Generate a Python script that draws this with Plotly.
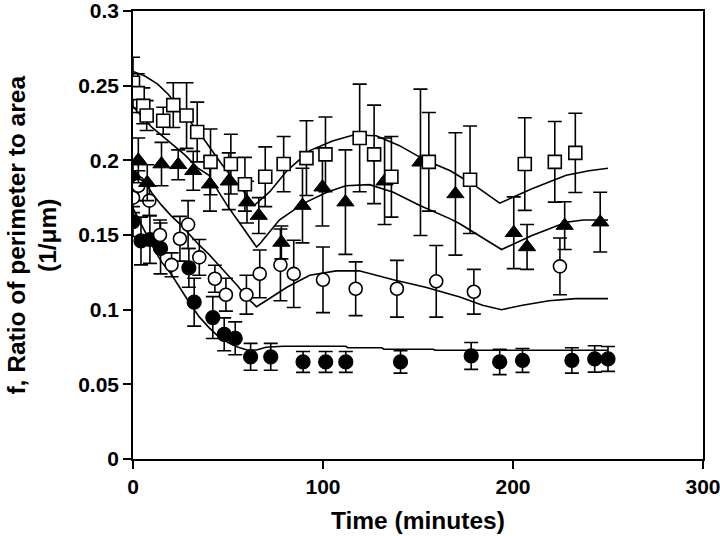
import plotly.graph_objects as go

# ---- data: open squares ----
sq_x = [0, 2.5, 5.4, 7.2, 15.9, 21.2, 28.2, 33.8, 40.8, 51.5, 58.9, 69.6, 79.3, 91.3, 101.3, 119.3, 126.9, 136, 155.7, 177.4, 206.2, 222, 232.8]
sq_y = [0.252, 0.245, 0.2365, 0.230, 0.2265, 0.237, 0.230, 0.219, 0.199, 0.1975, 0.184, 0.189, 0.1975, 0.2015, 0.204, 0.215, 0.204, 0.189, 0.199, 0.187, 0.1975, 0.199, 0.205]
sq_e = [0.017, 0.013, 0.012, 0.010, 0.009, 0.015, 0.022, 0.020, 0.022, 0.020, 0.018, 0.020, 0.0185, 0.025, 0.025, 0.036, 0.033, 0.027, 0.033, 0.036, 0.031, 0.027, 0.0265]

# ---- filled triangles ----
tr_x = [2.8, 7.5, 15, 23.8, 31.7, 40.5, 50.4, 60, 66.2, 78.1, 89.2, 99.7, 111.8, 132.4, 151.3, 169.7, 200.4, 207.4, 227.2, 245.9]
tr_y = [0.200, 0.185, 0.1975, 0.197, 0.193, 0.184, 0.186, 0.172, 0.163, 0.145, 0.1697, 0.182, 0.172, 0.186, 0.1987, 0.1775, 0.1515, 0.142, 0.1563, 0.1586]
tr_e = [0.015, 0.012, 0.0145, 0.010, 0.013, 0.018, 0.019, 0.014, 0.012, 0.011, 0.025, 0.026, 0.035, 0.029, 0.049, 0.041, 0.024, 0.015, 0.016, 0.020]

# ---- open circles ----
oc_x = [0, 2.8, 8.6, 14.2, 20.3, 24.7, 29, 34.9, 43.1, 48.9, 59.7, 66.7, 77.6, 84.6, 100, 117.2, 138.9, 159.6, 179.4, 224.7]
oc_y = [0.175, 0.183, 0.173, 0.150, 0.130, 0.1475, 0.157, 0.135, 0.1207, 0.110, 0.110, 0.124, 0.130, 0.124, 0.120, 0.114, 0.114, 0.119, 0.112, 0.129]
oc_e = [0.010, 0.010, 0.010, 0.010, 0.008, 0.015, 0.016, 0.012, 0.009, 0.011, 0.013, 0.016, 0.024, 0.0225, 0.022, 0.018, 0.019, 0.024, 0.015, 0.019]

# ---- filled circles ----
fc_x = [0, 0, 4.2, 8.9, 14.5, 29.4, 32.2, 42, 48, 53.8, 61.9, 72.5, 89.5, 101.4, 112, 140.8, 178, 193, 205, 231, 243, 250]
fc_y = [0.188, 0.159, 0.146, 0.147, 0.141, 0.128, 0.105, 0.0947, 0.0835, 0.0808, 0.0684, 0.0684, 0.065, 0.065, 0.065, 0.065, 0.069, 0.065, 0.066, 0.066, 0.067, 0.067]
fc_e = [0.009, 0.010, 0.016, 0.016, 0.017, 0.013, 0.016, 0.014, 0.011, 0.011, 0.009, 0.009, 0.007, 0.007, 0.007, 0.0075, 0.009, 0.0085, 0.008, 0.0085, 0.0088, 0.0083]

# ---- model curves ----
la_x = [0, 6, 13, 18.5, 27, 38, 46.6, 55, 64, 72, 81, 93, 105, 116, 128, 140, 154, 167, 180, 193, 210, 228, 240, 250]
la_y = [0.2595, 0.2566, 0.251, 0.2443, 0.231, 0.213, 0.1975, 0.184, 0.170, 0.179, 0.193, 0.2065, 0.213, 0.217, 0.2165, 0.210, 0.200, 0.193, 0.183, 0.1713, 0.181, 0.190, 0.193, 0.1947]

lb_x = [0, 5, 10, 18.5, 27, 34, 40, 45, 50, 55, 60, 65, 67, 77, 89.5, 102, 112, 124.5, 137, 151, 167, 172, 194, 210, 228, 237, 250]
lb_y = [0.236, 0.229, 0.222, 0.213, 0.204, 0.195, 0.190, 0.179, 0.169, 0.160, 0.151, 0.142, 0.1445, 0.160, 0.171, 0.1786, 0.183, 0.1837, 0.1786, 0.1697, 0.1608, 0.1575, 0.1403, 0.1497, 0.1586, 0.160, 0.160]

lc_x = [0, 5, 10, 15, 20, 25, 30, 35, 40, 45, 50, 55, 60, 65, 70, 81, 93, 107, 119, 137, 154, 172, 184, 194, 205, 219, 233, 250]
lc_y = [0.192, 0.188, 0.178, 0.170, 0.163, 0.157, 0.150, 0.143, 0.137, 0.130, 0.123, 0.116, 0.108, 0.102, 0.106, 0.115, 0.123, 0.126, 0.126, 0.120, 0.115, 0.1085, 0.103, 0.100, 0.103, 0.106, 0.1074, 0.1074]

ld_x = [0, 5, 10, 15, 20, 25, 30, 35, 40, 45, 50, 55, 60, 65, 70, 79, 112, 113, 131, 132, 158, 159, 250]
ld_y = [0.168, 0.155, 0.143, 0.132, 0.124, 0.114, 0.104, 0.095, 0.088, 0.082, 0.078, 0.075, 0.073, 0.073, 0.0748, 0.0755, 0.0755, 0.0745, 0.0745, 0.0735, 0.0735, 0.0728, 0.0728]

x_ticks = [0, 100, 200, 300]
y_ticks = [0, 0.05, 0.1, 0.15, 0.2, 0.25, 0.3]

fig = go.Figure()

for lx, ly in [(la_x, la_y), (lb_x, lb_y), (lc_x, lc_y), (ld_x, ld_y)]:
    fig.add_trace(go.Scatter(x=lx, y=ly, mode="lines",
                             line=dict(color="black", width=1.6), showlegend=False,
                             hoverinfo="skip"))

def err(e):
    return dict(type="data", array=e, visible=True, color="black", thickness=1.6, width=7)

fig.add_trace(go.Scatter(x=fc_x, y=fc_y, mode="markers", error_y=err(fc_e),
                         marker=dict(symbol="circle", size=14, color="black",
                                     line=dict(color="black", width=1.2)),
                         showlegend=False))
fig.add_trace(go.Scatter(x=oc_x, y=oc_y, mode="markers", error_y=err(oc_e),
                         marker=dict(symbol="circle", size=13, color="white",
                                     line=dict(color="black", width=1.6)),
                         showlegend=False))
fig.add_trace(go.Scatter(x=tr_x, y=tr_y, mode="markers", error_y=err(tr_e),
                         marker=dict(symbol="triangle-up", size=15, color="black",
                                     line=dict(color="black", width=1)),
                         showlegend=False))
fig.add_trace(go.Scatter(x=sq_x, y=sq_y, mode="markers", error_y=err(sq_e),
                         marker=dict(symbol="square", size=13, color="white",
                                     line=dict(color="black", width=1.6)),
                         showlegend=False))

tickfont = dict(family="Liberation Sans, Arial, sans-serif", size=21, color="black", weight="bold")
titlefont = dict(family="Liberation Sans, Arial, sans-serif", size=24.5, color="black", weight="bold")

fig.update_layout(
    width=720, height=536,
    margin=dict(l=133, r=17, t=11, b=77, autoexpand=False),
    paper_bgcolor="white", plot_bgcolor="white",
    xaxis=dict(range=[0, 300], tickvals=x_ticks, ticks="outside", ticklen=8, tickwidth=1.6,
               tickcolor="black", showline=True, linecolor="black", linewidth=1.6,
               mirror=True, showgrid=False, zeroline=False, tickfont=tickfont,
               automargin=False, ticklabeloverflow="allow"),
    yaxis=dict(range=[0, 0.3], tickvals=y_ticks, ticks="outside", ticklen=8, tickwidth=1.6,
               tickcolor="black", showline=True, linecolor="black", linewidth=1.6,
               mirror=True, showgrid=False, zeroline=False, tickfont=tickfont,
               automargin=False, ticklabeloverflow="allow"),
    annotations=[
        dict(text="Time (minutes)", xref="paper", yref="paper", x=0.5, y=-0.138,
             xanchor="center", yanchor="middle", showarrow=False, font=titlefont),
        dict(text="f, Ratio of perimeter to area<br>(1/\u03bcm)", xref="paper", yref="paper",
             x=-0.178, y=0.5, xanchor="center", yanchor="middle", textangle=-90,
             showarrow=False, font=titlefont),
    ],
)

fig.write_html("out.html", config={"displayModeBar": False},
               post_script="document.body.style.margin='0px';")
